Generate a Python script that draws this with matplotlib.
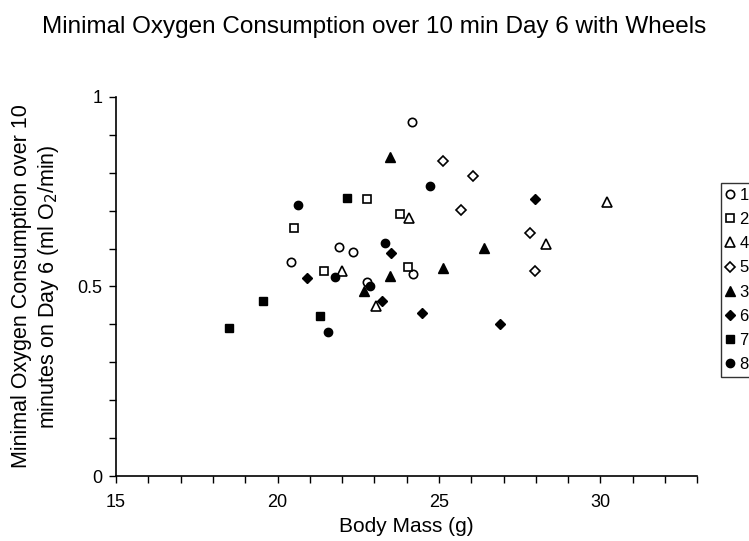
import numpy as np
import matplotlib.pyplot as plt

plt.rcParams['font.family'] = ['Liberation Sans', 'DejaVu Sans']

# body mass (g) and minimal O2 consumption (ml O2/min) per group
x1 = [20.42, 21.91, 22.34, 24.17, 24.20, 22.78]
y1 = [0.565, 0.604, 0.591, 0.934, 0.533, 0.512]
x2 = [20.52, 21.45, 22.78, 23.80, 24.05]
y2 = [0.654, 0.541, 0.731, 0.691, 0.551]
x4 = [22.00, 24.08, 23.06, 30.21, 28.32]
y4 = [0.541, 0.681, 0.449, 0.723, 0.612]
x5 = [25.13, 26.06, 25.69, 27.83, 27.98]
y5 = [0.831, 0.792, 0.702, 0.641, 0.541]
x3 = [23.49, 23.49, 22.69, 26.40, 25.13]
y3 = [0.842, 0.528, 0.488, 0.602, 0.549]
x6 = [20.92, 23.52, 23.24, 24.48, 27.98, 26.90]
y6 = [0.522, 0.588, 0.462, 0.430, 0.731, 0.401]
x7 = [22.16, 18.50, 19.56, 21.32]
y7 = [0.733, 0.390, 0.462, 0.422]
x8 = [20.64, 21.79, 23.34, 24.73, 21.57, 22.87]
y8 = [0.715, 0.525, 0.615, 0.765, 0.380, 0.501]

fig = plt.figure(figsize=(7.49, 5.41), dpi=100)
ax = fig.add_axes([0.155, 0.120, 0.776, 0.701])

ms = 6
ax.plot(x1, y1, 'o', ms=ms, mfc='white', mec='black', mew=1.2, label='1')
ax.plot(x2, y2, 's', ms=ms, mfc='white', mec='black', mew=1.2, label='2')
ax.plot(x4, y4, '^', ms=ms + 1, mfc='white', mec='black', mew=1.2, label='4')
ax.plot(x5, y5, 'D', ms=ms - 1, mfc='white', mec='black', mew=1.2, label='5')
ax.plot(x3, y3, '^', ms=ms + 1, color='black', label='3')
ax.plot(x6, y6, 'D', ms=ms - 0.5, color='black', label='6')
ax.plot(x7, y7, 's', ms=ms, color='black', label='7')
ax.plot(x8, y8, 'o', ms=ms, color='black', label='8')

ax.set_xlim(15, 33)
ax.set_ylim(0, 1)
ax.set_xticks(np.arange(15, 34, 1))
ax.set_xticklabels([str(v) if v % 5 == 0 else '' for v in range(15, 34)])
ax.set_yticks(np.arange(0, 1.01, 0.1))
ax.set_yticklabels(['0', '', '', '', '', '0.5', '', '', '', '', '1'])
ax.tick_params(direction='out', length=5, width=1, labelsize=13, pad=5)
ax.tick_params(axis='x', pad=8)
for s in ['top', 'right']:
    ax.spines[s].set_visible(False)
for s in ['left', 'bottom']:
    ax.spines[s].set_linewidth(1.2)

ax.set_xlabel('Body Mass (g)', fontsize=15, labelpad=4)
ax.set_ylabel('Minimal Oxygen Consumption over 10\nminutes on Day 6 (ml O$_2$/min)',
              fontsize=15.5, labelpad=12)
fig.suptitle('Minimal Oxygen Consumption over 10 min Day 6 with Wheels',
             fontsize=17.5, x=0.5, y=0.97)

leg = fig.legend(loc='upper left', bbox_to_anchor=(0.963, 0.662), frameon=True,
                 fancybox=False, edgecolor='black', fontsize=12, handlelength=0.5,
                 handletextpad=0.3, labelspacing=0.55, borderpad=0.3,
                 borderaxespad=0)
leg.get_frame().set_linewidth(1.0)

plt.savefig('out.png', dpi=100)
